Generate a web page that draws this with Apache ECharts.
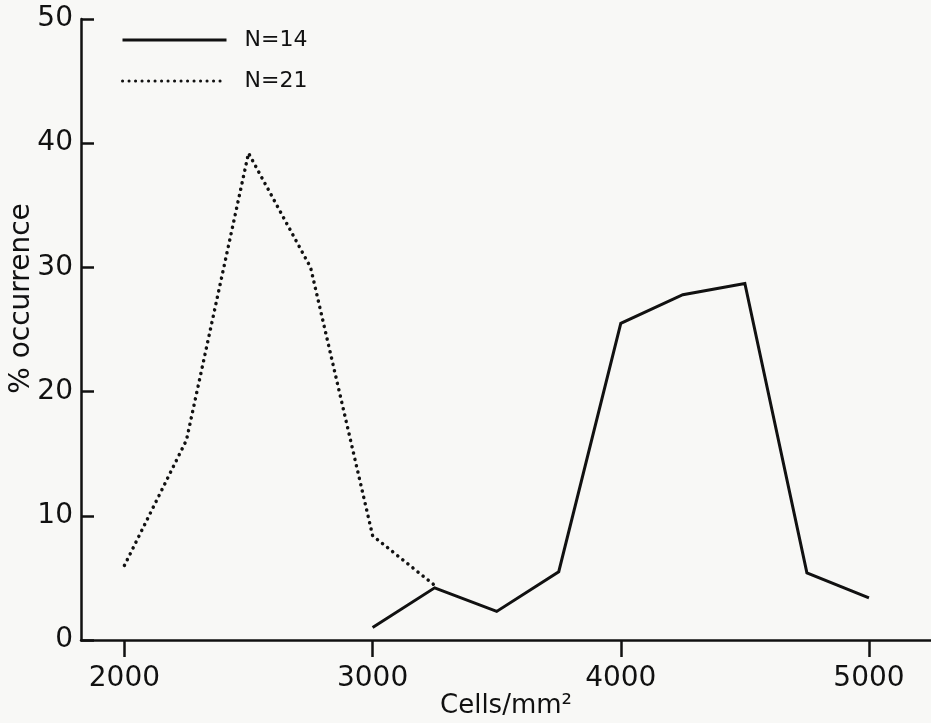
<!DOCTYPE html>
<html>
<head>
<meta charset="utf-8">
<script src="https://cdn.jsdelivr.net/npm/echarts@6/dist/echarts.min.js"></script>
<style>
html,body{margin:0;padding:0;background:#f8f8f6;}
#chart{width:931px;height:723px;}
</style>
</head>
<body>
<div id="chart"></div>
<script>
const xTicks = [2000, 3000, 4000, 5000];
const yTicks = [0, 10, 20, 30, 40, 50];
const seriesNames = ['N=14', 'N=21'];
const xN14 = [3000, 3250, 3500, 3750, 4000, 4250, 4500, 4750, 5000];
const yN14 = [1.0, 4.2, 2.3, 5.5, 25.5, 27.8, 28.7, 5.4, 3.4];
const xN21 = [2000, 2250, 2500, 2750, 3000, 3250];
const yN21 = [6.0, 16.1, 39.2, 30.0, 8.4, 4.4];

const pair = (xs, ys) => xs.map((x, i) => [x, ys[i]]);
const font = 'DejaVu Sans';
const ink = '#111';

const chart = echarts.init(document.getElementById('chart'));
chart.setOption({
  backgroundColor: '#f8f8f6',
  animation: false,
  grid: { left: 81, right: 0, top: 19, bottom: 83, containLabel: false, outerBoundsMode: 'none' },
  legend: {
    orient: 'vertical',
    left: 121,
    top: 29,
    padding: 0,
    itemWidth: 104,
    itemHeight: 14,
    itemGap: 19,
    itemStyle: { opacity: 0 },
    lineStyle: { width: 3 },
    textStyle: { fontFamily: font, fontSize: 22, color: ink, padding: [0, 0, 0, 13] },
    data: seriesNames
  },
  xAxis: {
    type: 'value',
    min: 1825,
    max: 5250,
    name: 'Cells/mm²',
    nameLocation: 'middle',
    nameGap: 53,
    nameMoveOverlap: false,
    nameTextStyle: { fontFamily: font, fontSize: 26, color: ink },
    axisLine: { lineStyle: { color: ink, width: 2.5 } },
    axisTick: { show: true, inside: false, length: 17, lineStyle: { color: ink, width: 2.5 }, customValues: xTicks },
    axisLabel: { fontFamily: font, fontSize: 28, color: ink, margin: 25, customValues: xTicks, formatter: v => String(v) },
    splitLine: { show: false }
  },
  yAxis: {
    type: 'value',
    min: 0,
    max: 50,
    interval: 10,
    name: '% occurrence',
    nameLocation: 'middle',
    nameGap: 45,
    nameRotate: 90,
    nameMoveOverlap: false,
    nameTextStyle: { fontFamily: font, fontSize: 28, color: ink, padding: [0, 0, 0, 62] },
    axisLine: { show: true, lineStyle: { color: ink, width: 2.5 } },
    axisTick: { show: true, inside: true, length: 13, lineStyle: { color: ink, width: 2.5 } },
    axisLabel: { fontFamily: font, fontSize: 28, color: ink, margin: 8, customValues: yTicks },
    splitLine: { show: false }
  },
  series: [
    {
      name: seriesNames[0],
      type: 'line',
      data: pair(xN14, yN14),
      symbol: 'none',
      itemStyle: { color: ink },
      lineStyle: { color: ink, width: 3, join: 'miter' }
    },
    {
      name: seriesNames[1],
      type: 'line',
      data: pair(xN21, yN21),
      symbol: 'none',
      itemStyle: { color: ink },
      lineStyle: { color: ink, width: 3.5, type: [0.1, 6.4], cap: 'round' }
    }
  ]
});
</script>
</body>
</html>
